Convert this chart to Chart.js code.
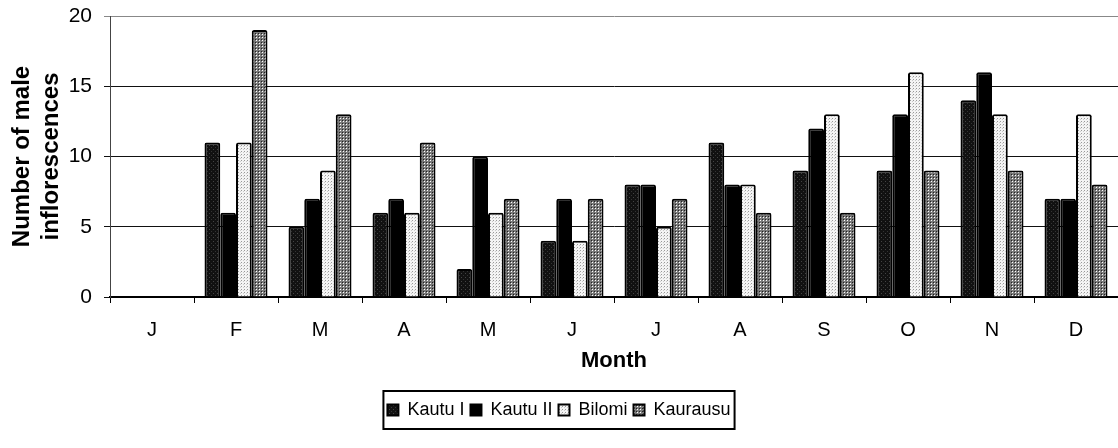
<!DOCTYPE html>
<html>
<head>
<meta charset="utf-8">
<script src="https://cdn.jsdelivr.net/npm/chart.js@4/dist/chart.umd.min.js"></script>
<style>
  html, body { margin: 0; padding: 0; background: #fff; }
  #wrap { width: 1118px; height: 448px; position: relative; }
</style>
</head>
<body>
<div id="wrap"><canvas id="chart" width="1118" height="448"></canvas></div>
<script>
// data
const months = ['J', 'F', 'M', 'A', 'M', 'J', 'J', 'A', 'S', 'O', 'N', 'D'];
const kautuI    = [null, 11, 5, 6, 2, 4, 8, 11, 9, 9, 14, 7];
const kautuII   = [null, 6, 7, 7, 10, 7, 8, 8, 12, 13, 16, 7];
const bilomi    = [null, 11, 9, 6, 6, 4, 5, 8, 13, 16, 13, 13];
const kaurausu  = [null, 19, 13, 11, 7, 7, 7, 6, 6, 9, 9, 8];
const yTicks = [0, 5, 10, 15, 20];

// small pattern tiles to mimic the print shading
function makePattern(size, bg, dots) {
    const c = document.createElement('canvas');
    c.width = size; c.height = size;
    const g = c.getContext('2d');
    g.fillStyle = bg;
    g.fillRect(0, 0, size, size);
    dots.forEach(d => {
        g.fillStyle = d[2];
        g.fillRect(d[0], d[1], 1, 1);
    });
    return g.createPattern(c, 'repeat');
}

const ctx = document.getElementById('chart').getContext('2d');
const patKautuI = makePattern(4, '#111', [[1, 1, '#444'], [3, 3, '#333']]);
const patBilomi = makePattern(3, '#f4f4f4', [[1, 1, '#999'], [0, 2, '#ccc']]);
const patKaurausu = makePattern(3, '#7a7a7a', [[1, 1, '#fff'], [0, 0, '#222']]);

const FONT = '"Liberation Sans", Arial, sans-serif';

// frame around the legend, sized from the legend's own hit boxes
const legendBox = {
    id: 'legendBox',
    afterDraw(chart) {
        const lg = chart.legend;
        if (!lg || !lg.legendHitBoxes.length) return;
        const hb = lg.legendHitBoxes;
        const l = Math.min(...hb.map(h => h.left)) - 4;
        const r = Math.max(...hb.map(h => h.left + h.width)) + 4;
        const t = hb[0].top - 10;
        const b = hb[0].top + hb[0].height + 10;
        const c = chart.ctx;
        c.save();
        c.strokeStyle = '#000';
        c.lineWidth = 2;
        c.strokeRect(l, t, r - l, b - t);
        c.restore();
    }
};

new Chart(ctx, {
    type: 'bar',
    data: {
        labels: months,
        datasets: [
            { label: 'Kautu I', data: kautuI, backgroundColor: patKautuI },
            { label: 'Kautu II', data: kautuII, backgroundColor: '#000' },
            { label: 'Bilomi', data: bilomi, backgroundColor: patBilomi },
            { label: 'Kaurausu', data: kaurausu, backgroundColor: patKaurausu }
        ].map(d => Object.assign(d, {
            borderColor: '#000',
            borderWidth: 2,
            borderRadius: 2,
            borderSkipped: 'bottom',
            categoryPercentage: 0.75,
            barPercentage: 1.0
        }))
    },
    options: {
        responsive: false,
        animation: false,
        layout: { padding: { top: 0, right: 0, bottom: 19, left: 0 } },
        scales: {
            x: {
                afterFit: (s) => { s.height = 98; },
                grid: { offset: true, drawOnChartArea: false, color: '#000', tickLength: 6 },
                border: { color: '#000', width: 2 },
                ticks: { color: '#000', font: { family: FONT, size: 20 }, padding: 15 },
                title: { display: true, text: 'Month', color: '#000', font: { family: FONT, size: 22, weight: 'bold' }, padding: { top: 0, bottom: 21 } }
            },
            y: {
                min: 0,
                max: 20,
                afterBuildTicks: (s) => { s.ticks = yTicks.map(v => ({ value: v })); },
                afterFit: (s) => { s.width = 110; s.paddingTop = 16; },
                grid: { color: (c) => c.tick && c.tick.value === 20 ? '#888' : '#111', tickLength: 6 },
                border: { color: '#444', width: 1 },
                ticks: { color: '#000', font: { family: FONT, size: 21 }, padding: 12 },
                title: { display: true, text: ['Number of male', 'inflorescences'], color: '#000', font: { family: FONT, size: 24, weight: 'bold' }, padding: { top: 8, bottom: 0 } }
            }
        },
        plugins: {
            legend: {
                position: 'bottom',
                labels: {
                    color: '#000',
                    font: { family: FONT, size: 18 },
                    boxWidth: 11,
                    boxHeight: 11,
                    padding: 6
                }
            },
            tooltip: { enabled: false }
        }
    },
    plugins: [legendBox]
});
</script>
</body>
</html>
